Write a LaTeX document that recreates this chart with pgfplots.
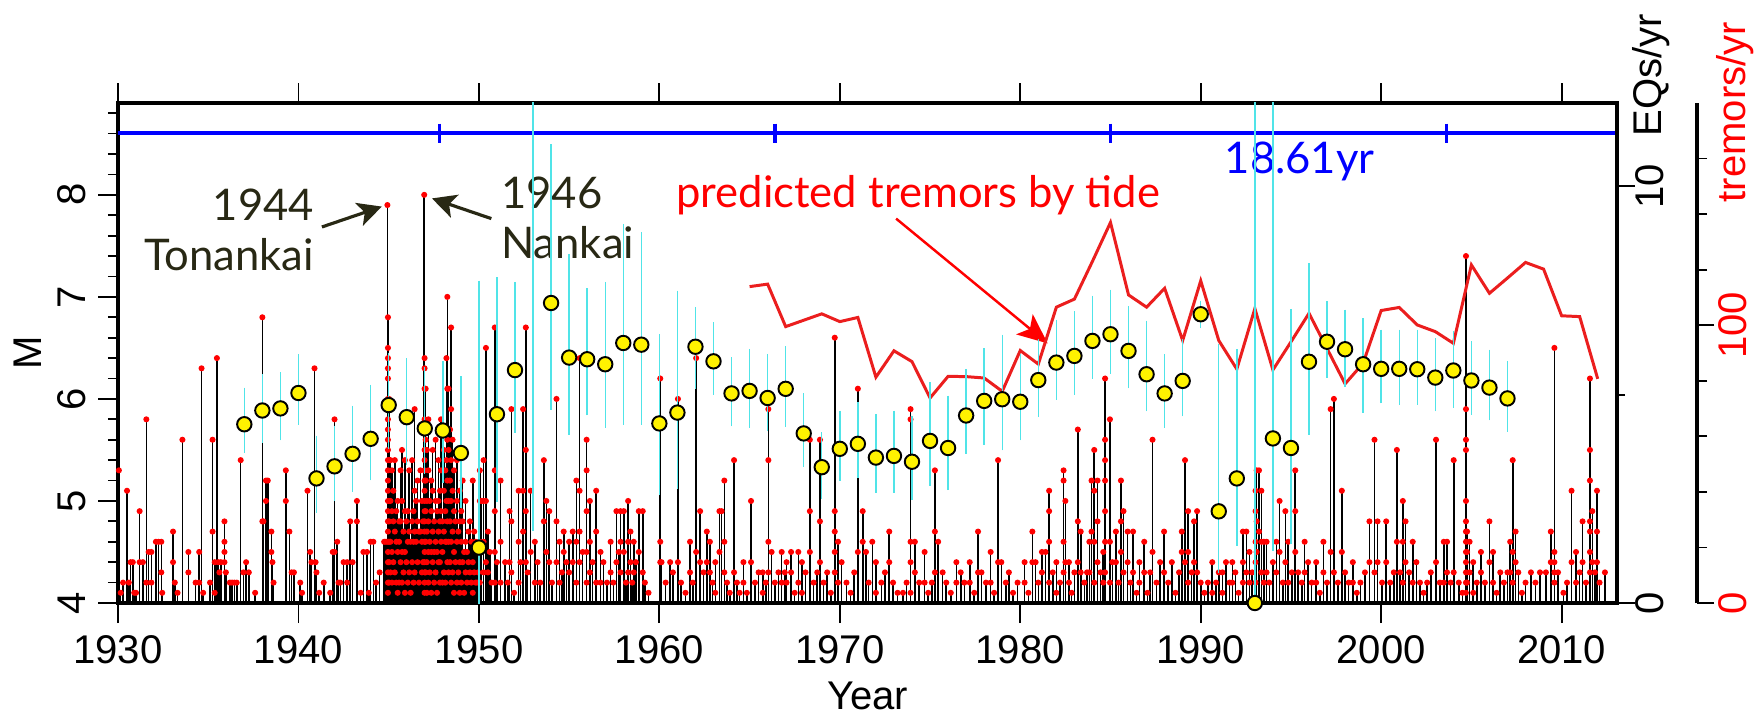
\documentclass[border=0pt]{standalone}
\usepackage{pgfplots}
\pgfplotsset{compat=1.18}
\usepackage{pgfplotstable}
\usepackage{fontspec}
\setmainfont{Liberation Sans}
\newfontfamily\annot{Lato}
\usetikzlibrary{arrows.meta}
\definecolor{cyanbar}{RGB}{80,228,232}
\definecolor{tremred}{RGB}{235,30,30}
\definecolor{arrowdark}{RGB}{40,40,20}
\newcommand\lab{\fontsize{11.4}{13}\selectfont}
\newcommand\ann{\annot\fontsize{12.4}{14}\selectfont}

% earthquakes: time, magnitude
\pgfplotstableread[row sep=\\]{
x y\\
1930.05 5.3\\ 1930.15 4.1\\ 1930.28 4.2\\ 1930.50 5.1\\ 1930.60 4.2\\ 1930.70 4.4\\ 1930.82 4.4\\ 1930.90 4.1\\
1931.00 4.1\\ 1931.20 4.9\\ 1931.20 4.4\\ 1931.38 4.4\\ 1931.57 5.8\\ 1931.57 4.2\\ 1931.70 4.5\\ 1931.85 4.5\\ 1931.85 4.2\\
1932.10 4.6\\ 1932.25 4.6\\ 1932.40 4.6\\ 1932.40 4.3\\ 1932.45 4.1\\
1933.05 4.7\\ 1933.05 4.4\\ 1933.15 4.2\\ 1933.30 4.1\\ 1933.57 5.6\\ 1933.90 4.5\\ 1933.90 4.3\\
1934.30 4.2\\ 1934.50 4.5\\ 1934.50 4.2\\ 1934.63 6.3\\ 1934.72 4.1\\
1935.10 4.2\\ 1935.24 5.6\\ 1935.24 4.7\\ 1935.36 4.4\\ 1935.36 4.1\\ 1935.48 6.4\\ 1935.55 4.4\\ 1935.62 4.3\\ 1935.70 4.4\\ 1935.90 4.8\\ 1935.90 4.6\\ 1935.90 4.5\\ 1935.90 4.4\\ 1935.98 4.3\\
1936.20 4.2\\ 1936.32 4.2\\ 1936.45 4.2\\ 1936.58 4.2\\ 1936.80 5.4\\ 1936.95 4.3\\
1937.10 4.4\\ 1937.25 4.3\\ 1937.60 4.1\\
1938.00 6.8\\ 1938.00 4.8\\ 1938.06 4.8\\ 1938.20 5.2\\ 1938.20 5.0\\ 1938.30 5.2\\ 1938.50 4.7\\ 1938.50 4.5\\ 1938.56 4.4\\ 1938.62 4.2\\
1939.30 5.3\\ 1939.30 5.0\\ 1939.50 4.7\\ 1939.62 4.3\\ 1939.75 4.3\\
1940.10 4.2\\ 1940.20 4.1\\ 1940.50 5.1\\ 1940.65 4.5\\ 1940.72 4.4\\ 1940.89 6.3\\ 1940.95 4.4\\ 1941.00 4.3\\ 1941.15 4.1\\
1941.40 4.2\\ 1941.76 4.1\\ 1941.90 4.5\\
1942.00 5.8\\ 1942.00 4.5\\ 1942.15 4.6\\ 1942.22 4.2\\ 1942.32 4.2\\ 1942.50 4.4\\ 1942.70 4.4\\ 1942.70 4.2\\ 1942.87 4.8\\
1943.00 4.4\\ 1943.24 5.0\\ 1943.24 4.8\\ 1943.45 4.1\\ 1943.60 4.5\\ 1943.80 4.5\\ 1943.90 4.1\\
1944.00 4.6\\ 1944.15 4.6\\ 1944.30 4.2\\ 1944.50 4.3\\ 1944.75 4.6\\ 1944.85 4.6\\
1944.93 7.9\\
1944.96 6.8\\ 1944.96 6.5\\ 1944.96 6.4\\ 1944.96 6.3\\ 1944.96 6.2\\ 1944.96 6.0\\ 1944.96 5.9\\ 1944.96 5.8\\ 1944.96 5.7\\ 1944.96 5.6\\ 1944.96 5.5\\ 1944.96 5.4\\ 1944.96 5.3\\
1944.96 5.2\\ 1944.96 5.1\\ 1944.96 5.0\\ 1944.96 4.9\\ 1944.96 4.8\\ 1944.96 4.7\\ 1944.96 4.6\\ 1944.96 4.5\\ 1944.96 4.4\\ 1944.96 4.3\\ 1944.96 4.2\\ 1944.96 4.1\\
1945.02 6.0\\ 1945.02 5.4\\ 1945.02 5.0\\ 1945.02 4.8\\ 1945.02 4.6\\ 1945.02 4.4\\ 1945.02 4.2\\
1945.10 5.4\\ 1945.10 5.0\\ 1945.10 4.6\\ 1945.10 4.3\\
1945.18 5.3\\ 1945.18 4.9\\ 1945.18 4.5\\ 1945.18 4.2\\
1945.26 5.1\\ 1945.26 4.8\\ 1945.26 4.4\\
1945.34 5.4\\ 1945.34 4.7\\ 1945.34 4.3\\
1945.42 4.9\\ 1945.42 4.6\\ 1945.42 4.2\\
1945.50 5.0\\ 1945.50 4.5\\ 1945.50 4.1\\
1945.58 4.8\\ 1945.58 4.6\\ 1945.58 4.2\\
1945.66 5.3\\ 1945.66 4.8\\ 1945.66 4.4\\
1945.74 5.5\\ 1945.74 5.0\\ 1945.74 4.5\\ 1945.74 4.2\\
1945.82 4.7\\ 1945.82 4.3\\
1945.90 5.4\\ 1945.90 4.9\\ 1945.90 4.5\\ 1945.90 4.1\\
1945.98 4.8\\ 1945.98 4.4\\
1946.06 4.9\\ 1946.06 4.6\\ 1946.06 4.2\\
1946.14 5.3\\ 1946.14 4.7\\ 1946.14 4.3\\
1946.22 4.6\\ 1946.22 4.1\\
1946.30 5.4\\ 1946.30 4.8\\ 1946.30 4.4\\
1946.38 4.9\\ 1946.38 4.6\\ 1946.38 4.2\\
1946.44 5.9\\ 1946.44 5.1\\ 1946.44 4.7\\ 1946.44 4.3\\
1946.52 5.0\\ 1946.52 4.6\\
1946.60 5.2\\ 1946.60 4.8\\ 1946.60 4.4\\
1946.68 4.7\\ 1946.68 4.2\\
1946.76 5.3\\ 1946.76 4.7\\
1946.84 5.0\\ 1946.84 4.6\\ 1946.84 4.3\\
1946.90 4.8\\ 1946.90 4.4\\
1946.97 8.0\\
1946.99 6.4\\ 1946.99 6.3\\ 1946.99 6.1\\ 1946.99 5.8\\ 1946.99 5.7\\ 1946.99 5.5\\ 1946.99 5.4\\ 1946.99 5.3\\ 1946.99 5.2\\ 1946.99 5.1\\
1946.99 5.0\\ 1946.99 4.9\\ 1946.99 4.8\\ 1946.99 4.7\\ 1946.99 4.6\\ 1946.99 4.5\\ 1946.99 4.4\\ 1946.99 4.3\\ 1946.99 4.2\\ 1946.99 4.1\\
1947.05 6.1\\ 1947.05 5.6\\ 1947.05 5.2\\ 1947.05 4.9\\ 1947.05 4.6\\ 1947.05 4.3\\
1947.12 5.5\\ 1947.12 5.0\\ 1947.12 4.7\\ 1947.12 4.4\\ 1947.12 4.1\\
1947.20 5.8\\ 1947.20 5.3\\ 1947.20 4.8\\ 1947.20 4.5\\ 1947.20 4.2\\
1947.28 5.0\\ 1947.28 4.6\\ 1947.28 4.3\\
1947.36 5.2\\ 1947.36 4.9\\ 1947.36 4.5\\ 1947.36 4.1\\
1947.44 5.5\\ 1947.44 5.1\\ 1947.44 4.7\\ 1947.44 4.4\\
1947.52 4.8\\ 1947.52 4.5\\ 1947.52 4.2\\
1947.60 5.6\\ 1947.60 5.0\\ 1947.60 4.6\\ 1947.60 4.3\\
1947.68 4.9\\ 1947.68 4.5\\ 1947.68 4.1\\
1947.76 5.4\\ 1947.76 5.0\\ 1947.76 4.7\\ 1947.76 4.4\\
1947.84 5.1\\ 1947.84 4.8\\ 1947.84 4.4\\ 1947.84 4.2\\
1947.90 5.8\\ 1947.90 5.3\\ 1947.90 4.9\\ 1947.90 4.6\\
1947.98 4.8\\ 1947.98 4.5\\ 1947.98 4.2\\
1948.06 5.5\\ 1948.06 5.1\\ 1948.06 4.7\\ 1948.06 4.3\\
1948.14 5.3\\ 1948.14 4.9\\ 1948.14 4.6\\ 1948.14 4.2\\
1948.20 6.4\\ 1948.20 5.4\\ 1948.20 5.0\\ 1948.20 4.6\\
1948.25 7.0\\ 1948.25 6.1\\ 1948.25 5.6\\ 1948.25 5.2\\ 1948.25 4.8\\ 1948.25 4.4\\
1948.32 6.1\\ 1948.32 5.5\\ 1948.32 5.0\\ 1948.32 4.6\\ 1948.32 4.3\\
1948.40 5.7\\ 1948.40 5.2\\ 1948.40 4.8\\ 1948.40 4.4\\
1948.46 6.7\\ 1948.46 5.9\\ 1948.46 5.4\\ 1948.46 5.0\\ 1948.46 4.6\\ 1948.46 4.2\\
1948.54 5.6\\ 1948.54 5.1\\ 1948.54 4.7\\ 1948.54 4.3\\
1948.62 5.3\\ 1948.62 4.9\\ 1948.62 4.5\\ 1948.62 4.1\\
1948.70 4.8\\ 1948.70 4.4\\
1948.78 5.4\\ 1948.78 5.0\\ 1948.78 4.6\\ 1948.78 4.2\\
1948.86 4.7\\ 1948.86 4.3\\
1948.94 5.1\\ 1948.94 4.8\\ 1948.94 4.4\\ 1948.94 4.1\\
1949.02 4.9\\ 1949.02 4.6\\ 1949.02 4.2\\
1949.10 5.2\\ 1949.10 4.8\\ 1949.10 4.4\\
1949.18 4.5\\ 1949.18 4.1\\
1949.26 5.0\\ 1949.26 4.6\\ 1949.26 4.3\\
1949.34 4.5\\ 1949.34 4.2\\
1949.42 4.7\\ 1949.42 4.4\\ 1949.50 4.8\\ 1949.50 4.3\\ 1949.58 4.6\\ 1949.58 4.2\\
1949.66 5.2\\ 1949.66 4.4\\ 1949.66 4.1\\ 1949.74 4.7\\ 1949.74 4.3\\ 1949.82 4.6\\ 1949.82 4.2\\ 1949.90 4.5\\ 1949.90 4.2\\ 1949.96 4.3\\
1950.05 5.3\\ 1950.05 5.0\\ 1950.05 4.6\\ 1950.05 4.2\\ 1950.15 5.0\\ 1950.15 4.5\\
1950.26 5.4\\ 1950.26 5.0\\ 1950.26 4.6\\ 1950.26 4.3\\ 1950.39 6.5\\ 1950.39 5.0\\ 1950.39 4.4\\
1950.50 4.7\\ 1950.50 4.3\\ 1950.60 4.5\\ 1950.70 4.2\\
1950.88 6.7\\ 1950.88 5.3\\ 1950.88 4.9\\ 1950.88 4.5\\ 1950.88 4.2\\
1951.00 4.4\\ 1951.20 5.2\\ 1951.20 4.6\\ 1951.20 4.2\\ 1951.45 4.4\\ 1951.60 4.2\\ 1951.70 4.9\\ 1951.70 4.4\\
1951.80 5.9\\ 1951.80 4.8\\ 1951.80 4.3\\ 1951.95 4.1\\
1952.20 5.1\\ 1952.20 4.6\\ 1952.20 4.2\\ 1952.30 4.4\\ 1952.45 5.9\\ 1952.45 5.1\\ 1952.45 4.7\\
1952.60 6.7\\ 1952.60 5.5\\ 1952.60 4.9\\ 1952.60 4.4\\ 1952.70 4.3\\ 1952.87 5.1\\ 1952.87 4.5\\
1953.10 4.6\\ 1953.10 4.2\\ 1953.25 4.4\\ 1953.40 4.2\\ 1953.60 5.4\\ 1953.60 4.8\\ 1953.74 5.0\\ 1953.74 4.5\\ 1953.90 4.9\\ 1953.90 4.4\\
1954.05 4.2\\ 1954.30 6.0\\ 1954.30 4.8\\ 1954.30 4.4\\ 1954.47 4.6\\ 1954.47 4.2\\ 1954.60 4.3\\ 1954.70 4.7\\ 1954.70 4.5\\ 1954.85 4.4\\
1955.00 4.6\\ 1955.00 4.3\\ 1955.20 4.7\\ 1955.20 4.4\\ 1955.40 5.2\\ 1955.40 4.6\\ 1955.40 4.2\\
1955.58 6.4\\ 1955.58 5.1\\ 1955.58 4.7\\ 1955.58 4.4\\ 1955.75 4.5\\
1955.97 5.6\\ 1955.97 5.3\\ 1955.97 4.9\\ 1955.97 4.5\\ 1955.97 4.2\\
1956.15 5.0\\ 1956.15 4.6\\ 1956.15 4.3\\ 1956.30 4.4\\ 1956.50 5.1\\ 1956.50 4.7\\ 1956.50 4.2\\ 1956.74 4.5\\ 1956.74 4.2\\ 1956.90 4.4\\
1957.10 4.2\\ 1957.30 4.6\\ 1957.30 4.3\\ 1957.45 4.2\\ 1957.62 4.9\\ 1957.62 4.4\\ 1957.75 4.5\\ 1957.85 4.9\\ 1957.85 4.6\\ 1957.85 4.3\\
1958.03 4.9\\ 1958.03 4.5\\ 1958.15 4.2\\ 1958.27 5.0\\ 1958.27 4.6\\ 1958.27 4.3\\ 1958.40 4.7\\ 1958.40 4.4\\ 1958.50 4.2\\
1958.58 4.6\\ 1958.58 4.3\\ 1958.70 4.4\\ 1958.86 4.9\\ 1958.86 4.5\\
1959.08 4.9\\ 1959.08 4.3\\ 1959.20 4.2\\ 1959.40 4.1\\
1960.05 6.2\\ 1960.05 4.6\\ 1960.05 4.4\\ 1960.12 4.4\\ 1960.35 4.2\\ 1960.60 4.4\\ 1960.75 4.3\\
1961.03 6.0\\ 1961.03 4.4\\ 1961.20 4.2\\ 1961.45 4.1\\ 1961.70 4.6\\ 1961.70 4.3\\ 1961.85 4.2\\
1962.04 6.4\\ 1962.04 4.5\\ 1962.26 4.9\\ 1962.26 4.4\\ 1962.45 4.3\\ 1962.63 4.7\\ 1962.63 4.4\\ 1962.80 4.6\\ 1962.80 4.3\\ 1962.95 4.2\\
1963.10 4.4\\ 1963.10 4.1\\ 1963.33 4.9\\ 1963.33 4.5\\ 1963.45 4.9\\ 1963.60 5.2\\ 1963.60 4.6\\ 1963.60 4.3\\ 1963.75 4.2\\ 1963.90 4.1\\
1964.14 5.4\\ 1964.14 4.3\\ 1964.30 4.2\\ 1964.45 4.1\\ 1964.66 4.4\\ 1964.66 4.2\\ 1964.85 4.1\\
1965.08 5.0\\ 1965.08 4.4\\ 1965.30 4.2\\ 1965.50 4.3\\ 1965.73 4.3\\ 1965.73 4.1\\ 1965.90 4.2\\
1966.04 5.9\\ 1966.04 5.4\\ 1966.04 4.6\\ 1966.04 4.3\\ 1966.22 4.5\\ 1966.40 4.2\\ 1966.60 4.3\\ 1966.78 4.5\\ 1966.78 4.2\\ 1966.95 4.3\\
1967.05 4.4\\ 1967.05 4.2\\ 1967.30 4.5\\ 1967.30 4.3\\ 1967.50 4.1\\ 1967.70 4.5\\ 1967.70 4.2\\ 1967.90 4.4\\ 1967.90 4.1\\
1968.10 4.3\\ 1968.34 5.6\\ 1968.34 4.9\\ 1968.34 4.5\\ 1968.55 4.2\\ 1968.75 4.3\\ 1968.90 5.6\\ 1968.90 4.8\\ 1968.90 4.4\\
1969.10 4.2\\ 1969.30 4.3\\ 1969.50 4.1\\ 1969.72 6.6\\ 1969.72 4.9\\ 1969.72 4.7\\ 1969.72 4.5\\ 1969.72 4.3\\ 1969.90 4.6\\ 1969.90 4.2\\
1970.10 4.4\\ 1970.37 4.2\\ 1970.60 4.1\\ 1970.80 4.3\\
1971.00 6.1\\ 1971.00 4.5\\ 1971.27 4.9\\ 1971.27 4.6\\ 1971.45 4.5\\ 1971.60 4.2\\ 1971.80 4.6\\
1972.00 4.4\\ 1972.00 4.1\\ 1972.30 4.2\\ 1972.50 4.3\\ 1972.74 4.7\\ 1972.74 4.4\\ 1972.95 4.2\\
1973.20 4.1\\ 1973.50 4.1\\ 1973.70 4.2\\ 1973.92 5.9\\ 1973.92 5.8\\ 1973.92 4.6\\ 1973.92 4.4\\ 1973.92 4.1\\
1974.16 4.6\\ 1974.16 4.3\\ 1974.40 4.2\\ 1974.70 4.5\\ 1974.70 4.2\\ 1974.90 4.1\\
1975.10 4.2\\ 1975.27 5.3\\ 1975.27 4.7\\ 1975.27 4.3\\ 1975.45 4.6\\ 1975.70 4.3\\ 1975.90 4.2\\
1976.15 4.1\\ 1976.46 4.4\\ 1976.46 4.2\\ 1976.70 4.3\\ 1976.90 4.2\\
1977.20 4.4\\ 1977.20 4.2\\ 1977.45 4.1\\ 1977.66 4.7\\ 1977.66 4.3\\ 1977.85 4.3\\
1978.10 4.2\\ 1978.36 4.5\\ 1978.36 4.2\\ 1978.55 4.1\\ 1978.77 5.4\\ 1978.77 4.4\\ 1978.95 4.4\\
1979.20 4.2\\ 1979.37 4.3\\ 1979.60 4.1\\ 1979.85 4.2\\
1980.24 4.4\\ 1980.24 4.2\\ 1980.45 4.1\\ 1980.67 4.7\\ 1980.67 4.4\\ 1980.85 4.4\\
1981.00 4.2\\ 1981.20 4.5\\ 1981.20 4.3\\ 1981.40 4.5\\ 1981.60 5.1\\ 1981.60 4.9\\ 1981.60 4.6\\ 1981.60 4.2\\ 1981.80 4.3\\
1982.00 4.4\\ 1982.00 4.1\\ 1982.20 4.2\\ 1982.40 5.3\\ 1982.40 5.2\\ 1982.40 4.6\\ 1982.40 4.3\\ 1982.50 5.0\\ 1982.50 4.4\\
1982.70 4.4\\ 1982.70 4.2\\ 1982.85 4.1\\
1983.00 4.3\\ 1983.19 5.7\\ 1983.19 4.8\\ 1983.19 4.4\\ 1983.35 4.7\\ 1983.35 4.3\\ 1983.55 4.2\\ 1983.70 4.3\\ 1983.83 4.6\\ 1983.83 4.3\\
1983.95 5.2\\ 1983.95 4.7\\
1984.10 5.5\\ 1984.10 5.1\\ 1984.10 4.6\\ 1984.10 4.2\\ 1984.28 5.2\\ 1984.28 4.8\\ 1984.28 4.4\\ 1984.45 4.3\\ 1984.60 4.5\\ 1984.60 4.2\\
1984.70 6.2\\ 1984.70 5.6\\ 1984.70 5.4\\ 1984.70 5.2\\ 1984.70 4.9\\ 1984.70 4.6\\ 1984.70 4.3\\
1984.97 5.8\\ 1984.97 4.6\\ 1984.97 4.2\\
1985.10 4.4\\ 1985.30 4.7\\ 1985.30 4.4\\ 1985.45 4.2\\ 1985.58 5.2\\ 1985.58 4.8\\ 1985.58 4.5\\ 1985.72 4.9\\ 1985.72 4.3\\ 1985.95 4.7\\ 1985.95 4.4\\
1986.10 4.2\\ 1986.25 4.7\\ 1986.25 4.3\\ 1986.45 4.1\\ 1986.60 4.4\\ 1986.60 4.2\\ 1986.87 4.6\\ 1986.87 4.3\\
1987.05 4.1\\ 1987.20 4.3\\ 1987.33 5.6\\ 1987.33 4.5\\ 1987.55 4.2\\ 1987.75 4.4\\ 1987.97 4.7\\ 1987.97 4.3\\
1988.20 4.2\\ 1988.40 4.4\\ 1988.60 4.1\\ 1988.80 4.3\\ 1988.95 4.7\\ 1988.95 4.5\\
1989.13 5.4\\ 1989.13 4.4\\ 1989.30 4.9\\ 1989.30 4.5\\ 1989.30 4.2\\ 1989.50 4.3\\ 1989.63 4.8\\ 1989.63 4.4\\ 1989.80 4.9\\ 1989.80 4.3\\
1990.00 4.2\\ 1990.20 4.1\\ 1990.40 4.2\\ 1990.64 4.4\\ 1990.64 4.1\\ 1990.85 4.2\\
1991.00 4.3\\ 1991.20 4.3\\ 1991.20 4.1\\ 1991.40 4.4\\ 1991.60 4.2\\ 1991.75 4.4\\ 1991.75 4.2\\ 1991.92 4.3\\
1992.10 4.1\\ 1992.34 4.7\\ 1992.34 4.4\\ 1992.34 4.2\\ 1992.53 4.7\\ 1992.53 4.3\\ 1992.70 4.5\\ 1992.70 4.2\\ 1992.85 4.3\\
1993.04 5.1\\ 1993.04 4.9\\ 1993.04 4.6\\ 1993.04 4.4\\ 1993.04 4.2\\ 1993.10 5.3\\ 1993.10 4.8\\ 1993.10 4.5\\
1993.23 5.3\\ 1993.23 4.7\\ 1993.36 5.1\\ 1993.36 4.6\\ 1993.36 4.3\\ 1993.50 4.6\\ 1993.50 4.2\\ 1993.65 4.6\\ 1993.65 4.3\\ 1993.80 4.2\\
1994.00 4.4\\ 1994.19 4.6\\ 1994.19 4.3\\ 1994.37 5.0\\ 1994.37 4.5\\ 1994.55 4.2\\ 1994.69 4.9\\ 1994.69 4.4\\ 1994.85 4.6\\ 1994.85 4.2\\
1995.05 4.3\\ 1995.24 5.3\\ 1995.24 4.9\\ 1995.24 4.5\\ 1995.40 4.3\\ 1995.60 4.2\\ 1995.76 4.6\\ 1995.76 4.3\\ 1995.95 4.4\\
1996.15 4.2\\ 1996.40 4.4\\ 1996.40 4.2\\ 1996.60 4.1\\ 1996.80 4.6\\ 1996.80 4.3\\
1997.00 4.2\\ 1997.20 5.9\\ 1997.20 4.5\\ 1997.38 6.0\\ 1997.38 4.3\\ 1997.60 4.2\\ 1997.82 5.1\\ 1997.82 4.5\\
1998.00 4.3\\ 1998.20 4.2\\ 1998.43 4.4\\ 1998.43 4.2\\ 1998.65 4.1\\ 1998.85 4.2\\
1999.10 4.3\\ 1999.35 4.8\\ 1999.35 4.4\\ 1999.63 5.6\\ 1999.63 4.3\\ 1999.80 4.8\\ 1999.80 4.4\\
2000.05 4.2\\ 2000.28 4.8\\ 2000.28 4.4\\ 2000.50 4.2\\ 2000.70 4.3\\ 2000.87 5.5\\ 2000.87 4.6\\
2001.05 4.3\\ 2001.20 5.0\\ 2001.20 4.6\\ 2001.20 4.2\\ 2001.35 4.8\\ 2001.35 4.4\\ 2001.55 4.3\\ 2001.75 4.6\\ 2001.75 4.2\\ 2001.95 4.4\\
2002.15 4.2\\ 2002.35 4.1\\ 2002.55 4.2\\ 2002.75 4.3\\
2003.04 5.6\\ 2003.04 4.4\\ 2003.25 4.2\\ 2003.47 4.6\\ 2003.47 4.2\\ 2003.65 4.6\\ 2003.65 4.3\\ 2003.85 4.2\\
2004.02 5.4\\ 2004.02 4.3\\ 2004.30 4.2\\ 2004.50 4.1\\
2004.70 7.4\\ 2004.70 5.9\\ 2004.70 5.6\\ 2004.70 5.5\\ 2004.70 5.0\\ 2004.70 4.8\\ 2004.70 4.7\\ 2004.70 4.6\\ 2004.70 4.5\\ 2004.70 4.4\\ 2004.70 4.3\\ 2004.70 4.2\\ 2004.70 4.1\\
2004.76 4.7\\ 2004.76 4.5\\ 2004.76 4.2\\ 2004.90 4.6\\ 2004.90 4.3\\
2005.10 4.4\\ 2005.10 4.1\\ 2005.30 4.2\\ 2005.53 4.5\\ 2005.53 4.3\\ 2005.75 4.2\\
2006.00 4.8\\ 2006.00 4.4\\ 2006.20 4.5\\ 2006.20 4.2\\ 2006.40 4.1\\ 2006.60 4.3\\ 2006.80 4.2\\
2007.00 4.3\\ 2007.15 4.6\\ 2007.15 4.3\\ 2007.29 5.4\\ 2007.29 4.5\\ 2007.29 4.2\\ 2007.45 4.7\\ 2007.45 4.4\\ 2007.60 4.3\\ 2007.80 4.1\\
2008.00 4.2\\ 2008.30 4.3\\ 2008.55 4.2\\ 2008.80 4.3\\
2009.13 4.3\\ 2009.40 4.7\\ 2009.40 4.4\\ 2009.60 6.5\\ 2009.60 4.5\\ 2009.60 4.4\\ 2009.60 4.3\\ 2009.60 4.2\\ 2009.80 4.3\\
2010.10 4.1\\ 2010.30 4.2\\ 2010.55 5.1\\ 2010.55 4.4\\ 2010.80 4.5\\ 2010.80 4.2\\
2011.00 4.3\\ 2011.16 4.8\\ 2011.16 4.4\\ 2011.35 4.2\\
2011.57 6.2\\ 2011.57 5.5\\ 2011.57 5.2\\ 2011.57 4.8\\ 2011.57 4.7\\ 2011.57 4.5\\ 2011.57 4.3\\
2011.70 4.9\\ 2011.70 4.4\\ 2011.85 4.3\\ 2011.96 5.1\\ 2011.96 4.7\\ 2011.96 4.4\\
2012.10 4.2\\ 2012.40 4.3\\
}\eqtable

% yearly rate of earthquakes (EQs/yr) with error bars
\pgfplotstableread[row sep=\\]{
x y ep em\\
1937 4.29 0.77 0.58\\ 1938 4.62 0.76 0.67\\ 1939 4.67 0.76 0.66\\ 1940 5.04 0.82 0.65\\
1941 2.99 0.92 0.71\\ 1942 3.28 0.87 0.73\\ 1943 3.58 1.05 0.80\\ 1944 3.94 1.19 0.89\\
1945 4.75 1.15 0.95\\ 1946 4.46 1.30 1.03\\ 1947 4.19 1.36 0.99\\ 1948 4.14 1.56 1.14\\
1949 3.60 1.73 1.20\\ 1950 1.33 6.30 1.33\\ 1951 4.53 3.18 2.00\\ 1952 5.59 2.01 1.40\\
1954 7.20 3.70 2.45\\ 1955 5.89 2.38 1.74\\ 1956 5.85 1.60 1.24\\ 1957 5.73 1.87 1.42\\
1958 6.24 2.75 1.85\\ 1959 6.20 2.60 1.81\\ 1960 4.31 2.04 1.61\\ 1961 4.57 2.82 1.73\\
1962 6.15 0.85 0.90\\ 1963 5.80 0.83 0.69\\ 1964 5.03 0.76 0.68\\ 1965 5.09 0.90 0.78\\
1966 4.92 0.95 0.69\\ 1967 5.14 0.91 0.81\\ 1968 4.07 0.86 0.70\\ 1969 3.26 0.73 0.66\\
1970 3.70 0.81 0.66\\ 1971 3.82 0.89 0.72\\ 1972 3.49 0.94 0.73\\ 1973 3.53 0.98 0.77\\
1974 3.39 1.00 0.80\\ 1975 3.89 1.30 0.97\\ 1976 3.72 1.15 0.90\\ 1977 4.50 1.01 0.81\\
1978 4.85 1.16 0.94\\ 1979 4.89 1.44 1.12\\ 1980 4.83 1.04 0.82\\ 1981 5.35 0.88 0.78\\
1982 5.77 0.92 0.78\\ 1983 5.93 0.96 0.82\\ 1984 6.29 0.98 0.80\\ 1985 6.45 0.96 0.84\\
1986 6.05 0.96 0.79\\ 1987 5.49 1.18 0.78\\ 1988 5.03 0.84 0.72\\ 1989 5.33 0.90 0.74\\
1990 6.93 0.22 0.23\\ 1991 2.20 3.91 1.36\\ 1992 2.99 3.00 1.51\\ 1993 0.00 13.0 0.00\\
1994 3.95 9.00 2.59\\ 1995 3.72 3.23 2.20\\ 1996 5.79 2.26 1.64\\ 1997 6.27 0.86 0.76\\
1998 6.09 0.84 0.79\\ 1999 5.73 1.00 1.06\\ 2000 5.62 0.83 0.72\\ 2001 5.62 0.83 0.76\\
2002 5.61 0.84 0.74\\ 2003 5.41 0.84 0.70\\ 2004 5.58 0.83 0.79\\ 2005 5.34 0.83 0.72\\
2006 5.17 0.80 0.68\\ 2007 4.91 0.79 0.69\\
}\ratetable

% 1953: rate above the plotted range, only its error bar is visible
\pgfplotstableread[row sep=\\]{
x y ep em\\
1953 13.0 2.0 11.16\\
}\ratehigh

% predicted tremors by tide (tremors/yr)
\pgfplotstableread[row sep=\\]{
x y\\
1965 113.9\\ 1966 114.8\\ 1967 99.5\\ 1968 101.8\\ 1969 104.1\\ 1970 101.3\\ 1971 102.8\\ 1972 81.3\\
1973 90.8\\ 1974 86.9\\ 1975 73.8\\ 1976 81.6\\ 1977 81.5\\ 1978 81.0\\ 1979 76.2\\ 1980 90.9\\
1981 86.0\\ 1982 106.5\\ 1983 109.4\\ 1984 123.0\\ 1985 137.0\\ 1986 110.9\\ 1987 106.5\\ 1988 113.3\\
1989 94.5\\ 1990 116.0\\ 1991 94.5\\ 1992 84.2\\ 1993 106.0\\ 1994 83.9\\ 1995 94.0\\ 1996 104.3\\
1997 91.6\\ 1998 78.9\\ 1999 86.3\\ 2000 105.3\\ 2001 106.4\\ 2002 100.1\\ 2003 97.7\\ 2004 93.5\\
2005 121.7\\ 2006 111.5\\ 2007 117.0\\ 2008 122.6\\ 2009 120.2\\ 2010 103.4\\ 2011 103.1\\ 2012 80.7\\
}\tremtable

\begin{document}
\begin{tikzpicture}
\useasboundingbox (-1.18,-1.10) rectangle (16.38,6.03);

% ---------- main axis: magnitude ----------
\begin{axis}[
  at={(0,0)}, anchor=south west, scale only axis,
  width=14.99cm, height=5.0cm,
  xmin=1930, xmax=2013.07, ymin=4, ymax=8.9,
  xtick={1930,1940,...,2010},
  xtick pos=both, xticklabel pos=bottom,
  ytick={4,5,6,7,8},
  minor ytick={4.2,4.4,4.6,4.8,5.2,5.4,5.6,5.8,6.2,6.4,6.6,6.8,7.2,7.4,7.6,7.8,8.2,8.4,8.6,8.8},
  ytick pos=left,
  tick align=outside,
  major tick length=0.2cm, minor tick length=0.1cm,
  tick style={black, line width=0.5pt},
  axis line style={line width=1pt},
  /pgf/number format/assume math mode=true,
  x tick label style={/pgf/number format/1000 sep={}},
  tick label style={font=\lab},
  yticklabel style={rotate=90, anchor=south},
  label style={font=\lab},
  xlabel={Year},
  xlabel style={at={(axis description cs:0.5,0)}, anchor=base, yshift=-1.06cm},
  ylabel={M},
  ylabel style={at={(axis description cs:-0.06,0.5)}, anchor=center},
  clip=true,
]
\addplot[ycomb, black, line width=0.45pt, forget plot] table[x=x,y=y] {\eqtable};
\addplot[only marks, mark=*, mark size=0.65pt, color=red, mark options={draw=none, fill=red}, forget plot] table[x=x,y=y] {\eqtable};

% 18.61-year cycle
\addplot[blue, line width=1pt, forget plot] coordinates {(1930,8.605) (2013.07,8.605)};
\addplot[only marks, blue, mark=|, mark size=0.095cm, mark options={line width=0.9pt}, forget plot]
  coordinates {(1947.80,8.605) (1966.41,8.605) (1985.02,8.605) (2003.63,8.605)};
\node[anchor=base west, inner sep=0pt, text=blue, font=\ann] at (axis cs:1991.3,8.21) {18.61yr};

% annotations
\node[anchor=base east, inner sep=0pt, font=\ann, text=arrowdark] at (axis cs:1940.9,7.75) {1944};
\node[anchor=base east, inner sep=0pt, font=\ann, text=arrowdark] at (axis cs:1940.9,7.26) {Tonankai};
\node[anchor=base west, inner sep=0pt, font=\ann, text=arrowdark] at (axis cs:1951.2,7.865) {1946};
\node[anchor=base west, inner sep=0pt, font=\ann, text=arrowdark] at (axis cs:1951.2,7.376) {Nankai};
\draw[arrowdark, line width=0.9pt, -{Stealth[length=0.24cm, width=0.24cm, inset=0.06cm]}]
  (axis cs:1941.3,7.685) -- (axis cs:1944.62,7.885);
\draw[arrowdark, line width=0.9pt, -{Stealth[length=0.24cm, width=0.24cm, inset=0.06cm]}]
  (axis cs:1950.69,7.767) -- (axis cs:1947.40,7.965);
\node[anchor=base west, inner sep=0pt, font=\ann, text=red] at (axis cs:1960.9,7.88) {predicted tremors by tide};
\draw[red, line width=0.7pt, -{Stealth[length=0.3cm, width=0.26cm, inset=0.07cm]}]
  (axis cs:1973.12,7.767) -- (axis cs:1981.52,6.544);
\end{axis}

% ---------- tremors axis (offset right spine) ----------
\begin{axis}[
  at={(0,0)}, anchor=south west, scale only axis,
  width=14.99cm, height=5.0cm,
  xmin=1930, xmax=2013.07, ymin=0, ymax=180,
  axis x line=none, axis y line*=right,
  axis y line shift=0.8cm,
  ytick={0,100}, minor ytick={20,40,60,80,120,140,160},
  tick align=outside,
  major tick length=0.17cm, minor tick length=0.1cm,
  tick style={black, line width=0.5pt},
  axis line style={line width=1pt},
  /pgf/number format/assume math mode=true,
  tick label style={font=\lab},
  yticklabel style={rotate=90, anchor=north, text=red, inner sep=1pt},
  clip=true,
]
\addplot[tremred, line width=0.85pt, forget plot] table[x=x,y=y] {\tremtable};
\end{axis}

% ---------- earthquake rate axis ----------
\begin{axis}[
  at={(0,0)}, anchor=south west, scale only axis,
  width=14.99cm, height=5.0cm,
  xmin=1930, xmax=2013.07, ymin=0, ymax=12,
  axis x line=none, axis y line*=right,
  ytick={0,10}, minor ytick={5},
  tick align=outside,
  major tick length=0.18cm, minor tick length=0.08cm,
  tick style={black, line width=0.5pt},
  axis line style={line width=1pt},
  /pgf/number format/assume math mode=true,
  tick label style={font=\lab},
  yticklabel style={rotate=90, anchor=north, inner sep=0pt},
  clip=true,
]
\addplot[draw=none, mark=none, forget plot,
  error bars/.cd, y dir=both, y explicit,
  error bar style={draw=cyanbar, line width=0.4pt},
  error mark options={draw=cyanbar, line width=0.4pt, mark size=1.3pt}]
  table[x=x, y=y, y error plus=ep, y error minus=em] {\ratehigh};
\addplot[only marks, mark=*, mark size=2.05pt,
  mark options={fill=yellow, draw=black, line width=0.55pt}, forget plot,
  error bars/.cd, y dir=both, y explicit,
  error bar style={draw=cyanbar, line width=0.4pt},
  error mark options={draw=cyanbar, line width=0.4pt, mark size=1.3pt}]
  table[x=x, y=y, y error plus=ep, y error minus=em] {\ratetable};
\end{axis}

\node[rotate=90, font=\lab] at (15.33,5.28) {EQs/yr};
\node[rotate=90, font=\lab, text=red] at (16.17,4.91) {tremors/yr};
\end{tikzpicture}
\end{document}
